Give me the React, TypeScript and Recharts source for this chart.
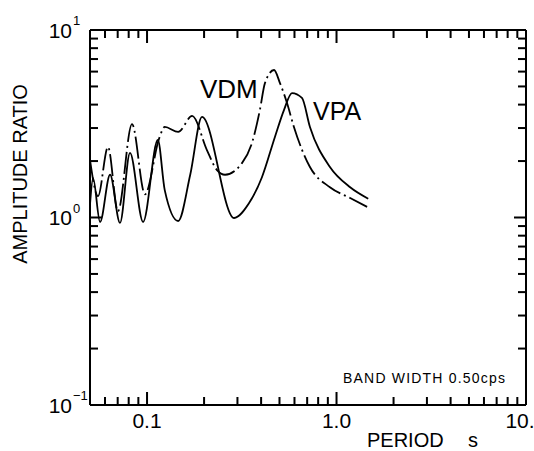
import React from 'react';
import { LineChart, Line, XAxis, YAxis, ReferenceLine } from 'recharts';

// VDM (dash-dot) curve, period in s / amplitude ratio
const vdmPeriod = [
  0.05, 0.0551, 0.0622, 0.0702, 0.0833, 0.0975, 0.116, 0.124, 0.146, 0.173,
  0.207, 0.234, 0.258, 0.317, 0.358, 0.394, 0.419, 0.468, 0.503, 0.548,
  0.596, 0.724, 0.923, 1.18, 1.45,
];
const vdmRatio = [
  2.03, 1.3, 2.38, 1.08, 3.15, 1.33, 2.65, 3.04, 2.86, 3.48,
  2.29, 1.79, 1.69, 1.95, 2.5, 3.74, 5.21, 6.12, 5.21, 4.08,
  3.04, 1.86, 1.45, 1.27, 1.14,
];

// VPA (solid) curve
const vpaPeriod = [
  0.05, 0.0519, 0.0565, 0.0638, 0.072, 0.0813, 0.0953, 0.114, 0.124, 0.146,
  0.169, 0.195, 0.288, 0.345, 0.404, 0.473, 0.528, 0.582, 0.657, 0.724,
  0.923, 1.18, 1.47,
];
const vpaRatio = [
  1.17, 1.62, 0.946, 1.69, 0.936, 2.21, 0.946, 2.59, 1.4, 0.958,
  1.69, 3.44, 0.994, 1.19, 1.64, 2.69, 3.74, 4.61, 4.34, 3.04,
  1.86, 1.45, 1.26,
];

const xTicks = [
  0.06, 0.07, 0.08, 0.09, 0.1, 0.2, 0.3, 0.4, 0.5, 0.6, 0.7, 0.8, 0.9,
  1, 2, 3, 4, 5, 6, 7, 8, 9, 10,
];
const yTicks = [
  0.1, 0.2, 0.3, 0.4, 0.5, 0.6, 0.7, 0.8, 0.9,
  1, 2, 3, 4, 5, 6, 7, 8, 9, 10,
];
const xTickLabels: Record<string, string> = { '0.1': '0.1', '1': '1.0', '10': '10.' };
const yTickExponents: Record<string, string> = { '0.1': '\u22121', '1': '0', '10': '1' };

const X_DOMAIN: [number, number] = [0.05, 10];
const Y_DOMAIN: [number, number] = [0.1, 10];

const vdmData = vdmPeriod.map((p, i) => ({ period: p, ratio: vdmRatio[i] }));
const vpaData = vpaPeriod.map((p, i) => ({ period: p, ratio: vpaRatio[i] }));

const W = 534;
const H = 451;
const MARGIN = { top: 30, right: 8, bottom: 0, left: 0 };
const Y_AXIS_W = 90;
const X_AXIS_H = 46;
const PLOT_W = W - MARGIN.left - MARGIN.right - Y_AXIS_W;
const PLOT_H = H - MARGIN.top - MARGIN.bottom - X_AXIS_H;
const TICK_W = 2;

const FONT = '"Liberation Sans", Arial, Helvetica, sans-serif';

const isDecade = (v: number) => {
  const l = Math.log10(v);
  return Math.abs(l - Math.round(l)) < 1e-6;
};

// inward ticks on the bottom edge, mirrored on the top edge (drawn as filled bars)
const XTick = (props: any) => {
  const { x, y, payload } = props;
  const v = payload.value;
  const len = isDecade(v) ? 13 : 8;
  const label = xTickLabels[String(v)];
  const top = y - PLOT_H;
  return (
    <g>
      <rect x={x - TICK_W / 2} y={y - len} width={TICK_W} height={len} fill="#000" stroke="none" />
      <rect x={x - TICK_W / 2} y={top} width={TICK_W} height={len} fill="#000" stroke="none" />
      {label && (
        <text x={x} y={y + 23} dx={v === 10 ? -6 : 0} textAnchor="middle" fontSize={21} fontFamily={FONT} fill="#000">
          {label}
        </text>
      )}
    </g>
  );
};

// inward ticks on the left edge, mirrored on the right edge
const YTick = (props: any) => {
  const { x, y, payload } = props;
  const v = payload.value;
  const len = isDecade(v) ? 12 : 8;
  const exp = yTickExponents[String(v)];
  const right = x + PLOT_W;
  return (
    <g>
      <rect x={x} y={y - TICK_W / 2} width={len} height={TICK_W} fill="#000" stroke="none" />
      <rect x={right - len} y={y - TICK_W / 2} width={len} height={TICK_W} fill="#000" stroke="none" />
      {exp && (
        <g fontFamily={FONT} fill="#000">
          <text x={x - 18} y={y + 7.5} textAnchor="end" fontSize={21}>10</text>
          <text x={x - 17} y={y - 5} textAnchor="start" fontSize={13}>{exp}</text>
        </g>
      )}
    </g>
  );
};

const ChartTexts = () => (
  <g fontFamily={FONT} fill="#000">
    <text x={27} y={174} transform="rotate(-90 27 174)" textAnchor="middle" fontSize={20}>
      AMPLITUDE  RATIO
    </text>
    <text x={200} y={98} fontSize={26}>VDM</text>
    <text x={313} y={120} fontSize={25}>VPA</text>
    <text x={343} y={383} fontSize={14} textLength={162} lengthAdjust="spacing">
      BAND  WIDTH 0.50cps
    </text>
    <text x={367} y={447} fontSize={20}>PERIOD</text>
    <text x={468} y={447} fontSize={20}>s</text>
  </g>
);

const axisLine = { stroke: '#000', strokeWidth: 2 };

export default function App() {
  return (
    <div style={{ position: 'absolute', left: 0, top: 0, width: W, height: H, background: '#fff' }}>
      <LineChart width={W} height={H} margin={MARGIN}>
        <XAxis
          xAxisId="bottom"
          dataKey="period"
          type="number"
          scale="log"
          domain={X_DOMAIN}
          allowDataOverflow
          ticks={xTicks}
          interval={0}
          height={X_AXIS_H}
          tickSize={0}
          tickMargin={0}
          tickLine={false}
          axisLine={axisLine}
          tick={(p: any) => <XTick {...p} />}
          label={{ content: () => <ChartTexts /> }}
        />
        <YAxis
          yAxisId="left"
          type="number"
          scale="log"
          domain={Y_DOMAIN}
          allowDataOverflow
          ticks={yTicks}
          interval={0}
          width={Y_AXIS_W}
          tickSize={0}
          tickMargin={0}
          tickLine={false}
          axisLine={axisLine}
          tick={(p: any) => <YTick {...p} />}
        />
        <ReferenceLine xAxisId="bottom" yAxisId="left" y={Y_DOMAIN[1]} stroke="#000" strokeWidth={2} ifOverflow="visible" />
        <ReferenceLine xAxisId="bottom" yAxisId="left" x={X_DOMAIN[1]} stroke="#000" strokeWidth={2} ifOverflow="visible" />
        <Line
          xAxisId="bottom"
          yAxisId="left"
          data={vdmData}
          dataKey="ratio"
          type="monotone"
          stroke="#000"
          strokeWidth={1.8}
          strokeDasharray="22 4 2 4"
          dot={false}
          isAnimationActive={false}
        />
        <Line
          xAxisId="bottom"
          yAxisId="left"
          data={vpaData}
          dataKey="ratio"
          type="monotone"
          stroke="#000"
          strokeWidth={1.8}
          dot={false}
          isAnimationActive={false}
        />
      </LineChart>
    </div>
  );
}
